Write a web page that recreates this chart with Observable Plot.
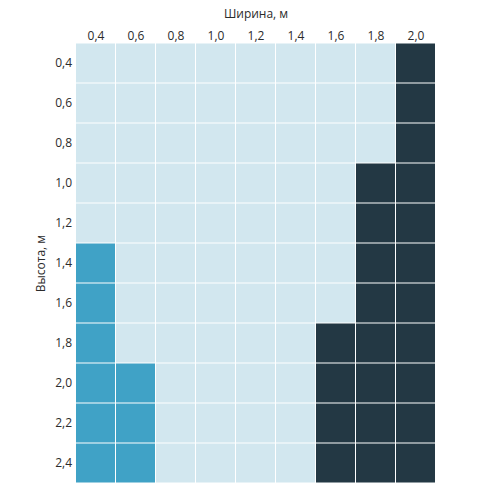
<!DOCTYPE html>
<html>
<head>
<meta charset="utf-8">
<script src="https://cdn.jsdelivr.net/npm/d3@7"></script>
<script src="https://cdn.jsdelivr.net/npm/@observablehq/plot@0.6"></script>
<style>
  html, body { margin: 0; padding: 0; background: #fff; overflow: hidden; }
  svg { display: block; max-width: none !important; }
</style>
</head>
<body>
<div id="chart"></div>
<script>
// Column (width) and row (height) labels
const widths = ["0,4", "0,6", "0,8", "1,0", "1,2", "1,4", "1,6", "1,8", "2,0"];
const heights = ["0,4", "0,6", "0,8", "1,0", "1,2", "1,4", "1,6", "1,8", "2,0", "2,2", "2,4"];
// Category per cell, one string per row (L = light, M = medium, D = dark), columns left to right
const rowCodes = [
  "LLLLLLLLD",
  "LLLLLLLLD",
  "LLLLLLLLD",
  "LLLLLLLDD",
  "LLLLLLLDD",
  "MLLLLLLDD",
  "MLLLLLLDD",
  "MLLLLLDDD",
  "MMLLLLDDD",
  "MMLLLLDDD",
  "MMLLLLDDD"
];
const categories = ["L", "M", "D"];
const colors = ["#d2e7ef", "#40a2c6", "#233844"];

const cells = [];
heights.forEach((h, i) => {
  widths.forEach((w, j) => {
    cells.push({ w, h, c: rowCodes[i][j] });
  });
});

const chart = Plot.plot({
  width: 500,
  height: 500,
  marginLeft: 75.5,
  marginRight: 64.5,
  marginTop: 43,
  marginBottom: 17,
  style: { fontFamily: "'Open Sans', sans-serif", fontSize: "12px", color: "#2b2b2b" },
  x: { domain: widths, padding: 0, round: false },
  y: { domain: heights, padding: 0, round: false },
  color: { domain: categories, range: colors },
  marks: [
    Plot.cell(cells, { x: "w", y: "h", fill: "c", inset: 0.5 }),
    Plot.axisX({ anchor: "top", tickSize: 0, tickPadding: 4, label: "Ширина, м", labelAnchor: "center", labelOffset: 34, labelArrow: "none" }),
    Plot.axisY({ anchor: "left", tickSize: 0, tickPadding: 4, label: "Высота, м", labelAnchor: "center", labelOffset: 40, labelArrow: "none" })
  ]
});
document.getElementById("chart").appendChild(chart);
</script>
</body>
</html>
